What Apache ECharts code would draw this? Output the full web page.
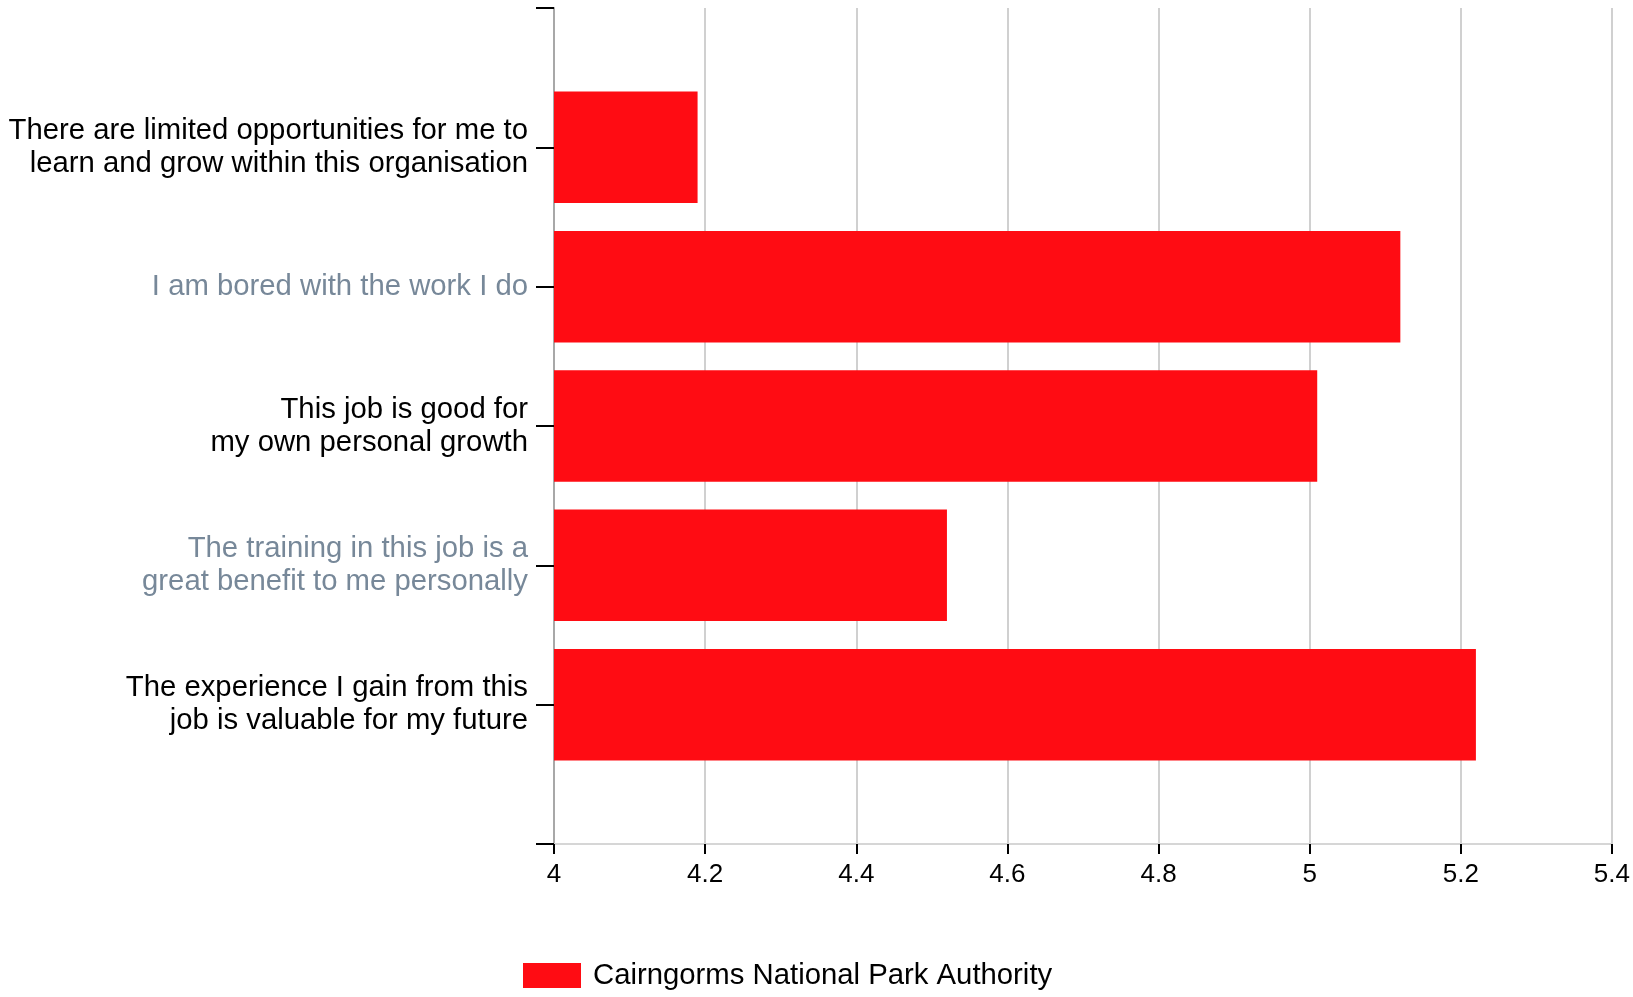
<!DOCTYPE html>
<html>
<head>
<meta charset="utf-8">
<script src="https://cdn.jsdelivr.net/npm/echarts@6/dist/echarts.min.js"></script>
<style>
html,body{margin:0;padding:0;background:#fff;}
#chart{width:1633px;height:997px;}
</style>
</head>
<body>
<div id="chart"></div>
<script>
const categories = [
  "There are limited opportunities for me to\nlearn and grow within this organisation",
  "I am bored with the work I do",
  "This job is good for\nmy own personal growth",
  "The training in this job is a\ngreat benefit to me personally",
  "The experience I gain from this\njob is valuable for my future"
];
const values = [4.19, 5.12, 5.01, 4.52, 5.22];
const greyLabels = [false, true, false, true, false];
const seriesName = "Cairngorms National Park Authority";
const xTicks = [4, 4.2, 4.4, 4.6, 4.8, 5, 5.2, 5.4];

// pad with empty slots at top and bottom so ticks appear at the axis ends
const axisCats = [''].concat(categories, ['']);
const axisVals = ['-'].concat(values, ['-']);
const axisGrey = [false].concat(greyLabels, [false]);

const FONT = '"Liberation Sans", Arial, Helvetica, sans-serif';
const chart = echarts.init(document.getElementById('chart'), null, {renderer: 'canvas'});
chart.setOption({
  backgroundColor: '#fff',
  animation: false,
  textStyle: {fontFamily: FONT},
  grid: {left: 554, right: 21, top: 8, bottom: 153, containLabel: false},
  legend: {
    left: 518, top: 956,
    itemWidth: 58, itemHeight: 25, itemGap: 20,
    icon: 'rect',
    textStyle: {fontSize: 29.3, color: '#000', fontFamily: FONT, padding: [0, 0, 0, 7]},
    data: [seriesName]
  },
  xAxis: {
    type: 'value',
    min: xTicks[0], max: xTicks[xTicks.length - 1], interval: 0.2,
    axisLine: {show: true, lineStyle: {color: '#d6d6d6', width: 2}},
    axisTick: {show: true, length: 10, lineStyle: {color: '#000', width: 2}},
    axisLabel: {fontSize: 26, color: '#000', margin: 18, fontFamily: FONT,
      formatter: v => String(Math.round(v * 10) / 10)},
    splitLine: {show: true, lineStyle: {color: '#d0d0d0', width: 2}}
  },
  yAxis: {
    type: 'category',
    inverse: true,
    boundaryGap: false,
    data: axisCats,
    axisLine: {show: true, lineStyle: {color: '#a8a8a8', width: 2}},
    axisTick: {show: true, length: 18, alignWithLabel: true, lineStyle: {color: '#000', width: 2}},
    axisLabel: {
      fontSize: 29.3, lineHeight: 33, margin: 26, fontFamily: FONT, align: 'right',
      interval: 0,
      color: (v, i) => axisGrey[i] ? '#778899' : '#000'
    },
    splitLine: {show: false}
  },
  series: [{
    name: seriesName,
    type: 'bar',
    data: axisVals,
    barWidth: '80%',
    itemStyle: {color: '#ff0c13'},
    z: 3
  }]
});
</script>
</body>
</html>
